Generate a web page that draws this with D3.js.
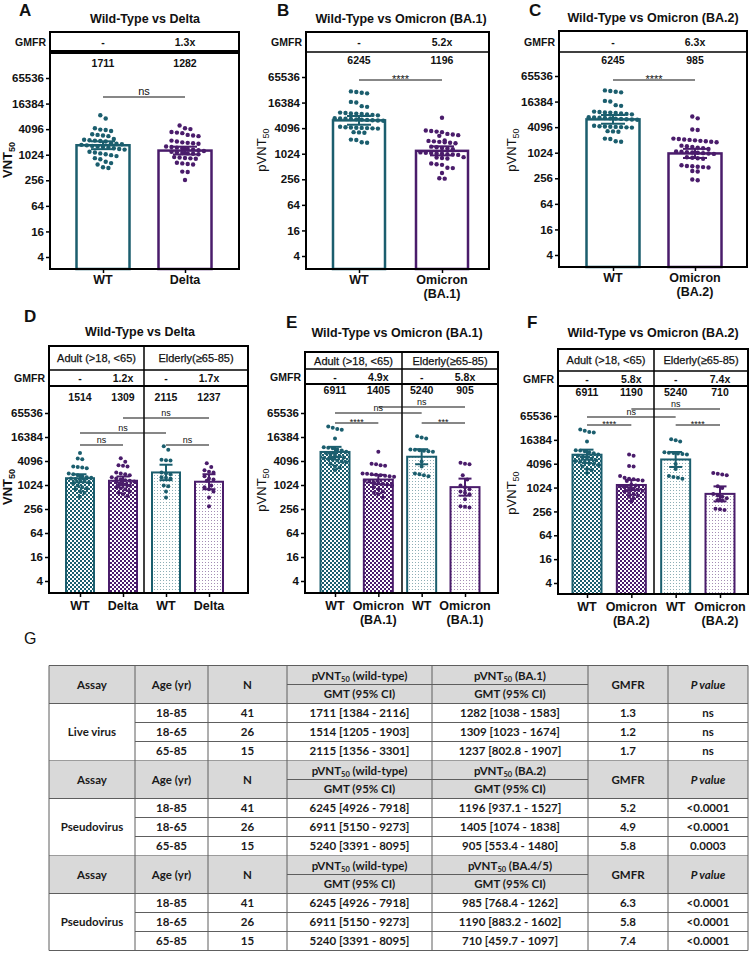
<!DOCTYPE html>
<html><head><meta charset="utf-8">
<script src="https://cdn.jsdelivr.net/npm/d3@7"></script>
<style>
body{margin:0;background:#fff}
svg{display:block}
text{font-family:"Liberation Sans",Arial,sans-serif;fill:#111}
.tbl text{font-family:Lato,"Open Sans",sans-serif;font-weight:700;fill:#1a1a1a}
</style>
</head><body>
<svg id="c" width="750" height="966"></svg>
<script>
// ---------------- DATA ----------------
const yTicks = [4, 16, 64, 256, 1024, 4096, 16384, 65536];
const ageGroups = ["Adult (>18, <65)", "Elderly(\u226565-85)"];

// Panel A: Wild-Type vs Delta (live virus, all ages)
const aLabels = [["WT"], ["Delta"]];
const aGMT = [1711, 1282];
const aLow = [1384, 1038];
const aHigh = [2116, 1583];
const aGMFR = ["-", "1.3x"];
const aSig = ["ns"];
const aWT = [8700, 7300, 4300, 4000, 3900, 3700, 3100, 3000, 2900, 2800, 2400, 2300, 2250, 2200, 2150, 2100, 1900, 1850, 1800, 1750, 1700, 1650, 1600, 1550, 1500, 1450, 1400, 1350, 1200, 1150, 1100, 1050, 1000, 950, 850, 800, 700, 650, 600, 520, 500];
const aDelta = [5000, 4300, 4100, 3500, 3400, 3300, 3000, 2900, 2800, 2200, 2100, 2000, 1950, 1900, 1850, 1600, 1550, 1500, 1450, 1400, 1350, 1300, 1250, 1200, 1150, 1120, 1100, 1080, 1050, 900, 880, 860, 840, 820, 660, 640, 620, 600, 410, 400, 260];

// Panel B: Wild-Type vs Omicron BA.1 (pseudovirus)
const bLabels = [["WT"], ["Omicron", "(BA.1)"]];
const bGMT = [6245, 1196];
const bLow = [4926, 937.1];
const bHigh = [7918, 1527];
const bGMFR = ["-", "5.2x"];
const bSig = ["****"];
const bWT = [30000, 29000, 28000, 27000, 17000, 16500, 13500, 13000, 9500, 9300, 9100, 9000, 8800, 8600, 8400, 8200, 7000, 6900, 6800, 6700, 6600, 6500, 6400, 6300, 6200, 6100, 4400, 4300, 4250, 4200, 4150, 4100, 4050, 4000, 3300, 3250, 3200, 2200, 2150, 1900, 1850];
const bBA1 = [7200, 3600, 3500, 3400, 3300, 3000, 2900, 2800, 2700, 2100, 2050, 2000, 1950, 1900, 1850, 1800, 1500, 1450, 1400, 1350, 1300, 1100, 1080, 1060, 1040, 1020, 1000, 980, 960, 850, 830, 810, 790, 600, 580, 560, 480, 470, 360, 270, 265];

// Panel C: Wild-Type vs Omicron BA.2
const cLabels = [["WT"], ["Omicron", "(BA.2)"]];
const cGMT = [6245, 985];
const cLow = [4926, 768.4];
const cHigh = [7918, 1262];
const cGMFR = ["-", "6.3x"];
const cSig = ["****"];
const cWT = [30000, 29000, 28000, 27000, 17000, 16500, 13500, 13000, 9500, 9300, 9100, 9000, 8800, 8600, 8400, 8200, 7000, 6900, 6800, 6700, 6600, 6500, 6400, 6300, 6200, 6100, 4400, 4300, 4250, 4200, 4150, 4100, 4050, 4000, 3300, 3250, 3200, 2200, 2150, 1900, 1850];
const cBA2 = [7300, 6600, 3600, 3500, 2200, 2150, 2100, 2050, 2000, 1950, 1900, 1850, 1800, 1500, 1450, 1400, 1350, 1300, 1250, 1100, 1080, 1060, 1040, 1020, 1000, 980, 960, 800, 780, 760, 740, 520, 500, 490, 480, 470, 460, 380, 370, 240, 230];

// Panel D: by age, Delta
const dLabels = [["WT"], ["Delta"], ["WT"], ["Delta"]];
const dGMT = [1514, 1309, 2115, 1237];
const dLow = [1205, 1023, 1356, 802.8];
const dHigh = [1903, 1674, 3301, 1907];
const dGMFR = ["-", "1.2x", "-", "1.7x"];
const dSig = ["ns", "ns", "ns", "ns"];
const dAdultWT = [6500, 4700, 4500, 3000, 2900, 2800, 2700, 2000, 1900, 1800, 1700, 1600, 1550, 1500, 1450, 1400, 1300, 1200, 1100, 1000, 900, 850, 800, 700, 650, 520];
const dAdultDelta = [4800, 3900, 3200, 3100, 3000, 2100, 2000, 1900, 1800, 1600, 1500, 1400, 1350, 1300, 1250, 1200, 1100, 1050, 1000, 900, 850, 800, 700, 650, 600, 550];
const dElderWT = [9600, 7900, 4400, 4300, 4200, 2100, 2000, 1900, 1600, 1550, 1500, 1000, 950, 700, 500];
const dElderDelta = [3600, 2900, 2400, 2200, 2100, 1700, 1500, 1400, 1300, 1000, 900, 800, 700, 500, 300];

// Panel E: by age, BA.1
const eLabels = [["WT"], ["Omicron", "(BA.1)"], ["WT"], ["Omicron", "(BA.1)"]];
const eGMT = [6911, 1405, 5240, 905];
const eLow = [5150, 1074, 3391, 553.4];
const eHigh = [9273, 1838, 8095, 1480];
const eGMFR = ["-", "4.9x", "-", "5.8x"];
const eSig = ["ns", "ns", "****", "***"];
const eAdultWT = [30000, 28000, 26000, 25000, 15000, 9000, 8800, 8500, 8000, 7500, 7000, 6500, 6000, 5800, 5500, 5000, 4800, 4600, 4400, 4200, 4000, 3800, 3500, 3000, 2800, 2400];
const eAdultBA1 = [7000, 3500, 3400, 3200, 3100, 2000, 1950, 1900, 1850, 1800, 1750, 1700, 1650, 1300, 1250, 1200, 1150, 1100, 1050, 1000, 900, 800, 700, 650, 600, 500];
const eElderWT = [17000, 16000, 15000, 8000, 7800, 7600, 7400, 7200, 7000, 4000, 3000, 2000, 1900, 1800, 1700];
const eElderBA1 = [3700, 3500, 3400, 1800, 1400, 1000, 900, 800, 700, 650, 600, 450, 300, 290, 280];

// Panel F: by age, BA.2
const fLabels = [["WT"], ["Omicron", "(BA.2)"], ["WT"], ["Omicron", "(BA.2)"]];
const fGMT = [6911, 1190, 5240, 710];
const fLow = [5150, 883.2, 3391, 459.7];
const fHigh = [9273, 1602, 8095, 1097];
const fGMFR = ["-", "5.8x", "-", "7.4x"];
const fSig = ["ns", "ns", "****", "****"];
const fAdultWT = [30000, 28000, 26000, 25000, 15000, 9000, 8800, 8500, 8000, 7500, 7000, 6500, 6000, 5800, 5500, 5000, 4800, 4600, 4400, 4200, 4000, 3800, 3500, 3000, 2800, 2400];
const fAdultBA2 = [7000, 6500, 3600, 3500, 2000, 1800, 1700, 1650, 1600, 1550, 1500, 1200, 1150, 1100, 1050, 1000, 950, 900, 850, 800, 750, 700, 650, 600, 550, 450];
const fElderWT = [17000, 16000, 15000, 8000, 7800, 7600, 7400, 7200, 7000, 4000, 3000, 2000, 1900, 1800, 1700];
const fElderBA2 = [2400, 2300, 2200, 2100, 1100, 1000, 700, 650, 600, 550, 500, 480, 300, 290, 280];

// Table G
const tblAssay = ["Live virus", "Pseudovirus", "Pseudovirus"];
const tblVariant = ["BA.1", "BA.2", "BA.4/5"];
const tblAge = ["18-85", "18-65", "65-85"];
const tblN = ["41", "26", "15"];
const liveWT = ["1711 [1384 - 2116]", "1514 [1205 - 1903]", "2115 [1356 -  3301]"];
const liveVar = ["1282 [1038 - 1583]", "1309 [1023 - 1674]", "1237 [802.8 - 1907]"];
const liveGMFR = ["1.3", "1.2", "1.7"];
const liveP = ["ns", "ns", "ns"];
const pseudo1WT = ["6245 [4926 - 7918]", "6911 [5150 - 9273]", "5240 [3391 - 8095]"];
const pseudo1Var = ["1196 [937.1 - 1527]", "1405 [1074 - 1838]", "905 [553.4 - 1480]"];
const pseudo1GMFR = ["5.2", "4.9", "5.8"];
const pseudo1P = ["<0.0001", "<0.0001", "0.0003"];
const pseudo2WT = ["6245 [4926 - 7918]", "6911 [5150 - 9273]", "5240 [3391 - 8095]"];
const pseudo2Var = ["985 [768.4 - 1262]", "1190 [883.2 - 1602]", "710 [459.7 - 1097]"];
const pseudo2GMFR = ["6.3", "5.8", "7.4"];
const pseudo2P = ["<0.0001", "<0.0001", "<0.0001"];

// ---------------- STYLE / LAYOUT ----------------
const TEAL = "#1b5e6e", PURP = "#4a1c6b";
const svg = d3.select("#c");
const defs = svg.append("defs");
function checker(id, col) {
  const p = defs.append("pattern").attr("id", id).attr("width", 4).attr("height", 4).attr("patternUnits", "userSpaceOnUse");
  p.append("rect").attr("width", 4).attr("height", 4).attr("fill", "#fff");
  p.append("rect").attr("width", 2).attr("height", 2).attr("fill", col);
  p.append("rect").attr("x", 2).attr("y", 2).attr("width", 2).attr("height", 2).attr("fill", col);
}
function dotted(id, col) {
  const p = defs.append("pattern").attr("id", id).attr("width", 3).attr("height", 3).attr("patternUnits", "userSpaceOnUse");
  p.append("rect").attr("width", 3).attr("height", 3).attr("fill", "#fff");
  p.append("rect").attr("x", 1).attr("y", 1).attr("width", 1).attr("height", 1).attr("fill", col).attr("opacity", 0.5);
}
checker("chkT", TEAL); checker("chkP", PURP); dotted("dotT", TEAL); dotted("dotP", PURP);

const layouts = [
  {letter:"A", lx:19, ly:16, title:"Wild-Type vs Delta", tx:145, ty:23, x0:50, x1:239, top:32, gmfrB:52, sepW:4, bottom:269, y4:257, y64k:78, c0:103, c1:185, bw:53, valY:67, ylab:"VNT", ylabBold:true, ylx:12, yly:160,
   labels:aLabels, gmt:aGMT, low:aLow, high:aHigh, gmfr:aGMFR, sig:aSig, vals:[aWT, aDelta], br:[[0,1,97]], cap:24, r:2.2, sp:5.4, sw:2.5},
  {letter:"B", lx:277, ly:16, title:"Wild-Type vs Omicron (BA.1)", tx:401, ty:23, x0:306, x1:489, top:32, gmfrB:52, sepW:1.5, bottom:269, y4:256, y64k:77, c0:359, c1:442, bw:52, valY:64, ylab:"pVNT", ylabBold:false, ylx:266, yly:150,
   labels:bLabels, gmt:bGMT, low:bLow, high:bHigh, gmfr:bGMFR, sig:bSig, vals:[bWT, bBA1], br:[[0,1,80]], cap:24, r:2.2, sp:5.4, sw:2.5},
  {letter:"C", lx:529, ly:16, title:"Wild-Type vs Omicron (BA.2)", tx:653, ty:22, x0:559, x1:747, top:31, gmfrB:52, sepW:1.5, bottom:267, y4:255, y64k:76, c0:613, c1:695, bw:53, valY:64, ylab:"pVNT", ylabBold:false, ylx:516, yly:150,
   labels:cLabels, gmt:cGMT, low:cLow, high:cHigh, gmfr:cGMFR, sig:cSig, vals:[cWT, cBA2], br:[[0,1,80]], cap:24, r:2.2, sp:5.4, sw:2.5},
  {letter:"D", lx:24, ly:322, title:"Wild-Type vs Delta", tx:140, ty:336, x0:49, x1:248, top:346, hdrB:370, divX:144, gmfrB:386, sepW:2, bottom:593, y4:581, y64k:413, c0:80, c1:209, bw:28, valY:401, ylab:"VNT", ylabBold:true, ylx:12, yly:487,
   labels:dLabels, gmt:dGMT, low:dLow, high:dHigh, gmfr:dGMFR, sig:dSig, vals:[dAdultWT, dAdultDelta, dElderWT, dElderDelta], br:[[1,3,418],[0,2,433],[0,1,445],[2,3,445]], cap:13, r:2, sp:4.5, sw:2},
  {letter:"E", lx:286, ly:328, title:"Wild-Type vs Omicron (BA.1)", tx:397, ty:337, x0:305, x1:498, top:352, hdrB:369, divX:402, gmfrB:384, sepW:2, bottom:593, y4:581, y64k:413, c0:335, c1:465, bw:29, valY:394, ylab:"pVNT", ylabBold:false, ylx:266, yly:490,
   labels:eLabels, gmt:eGMT, low:eLow, high:eHigh, gmfr:eGMFR, sig:eSig, vals:[eAdultWT, eAdultBA1, eElderWT, eElderBA1], br:[[1,3,407],[0,2,413],[0,1,423],[2,3,423]], cap:13, r:2, sp:4.5, sw:2},
  {letter:"F", lx:527, ly:328, title:"Wild-Type vs Omicron (BA.2)", tx:653, ty:337, x0:558, x1:748, top:349, hdrB:371, divX:654, gmfrB:386, sepW:2, bottom:594, y4:583, y64k:416, c0:587, c1:720, bw:29, valY:396, ylab:"pVNT", ylabBold:false, ylx:516, yly:493,
   labels:fLabels, gmt:fGMT, low:fLow, high:fHigh, gmfr:fGMFR, sig:fSig, vals:[fAdultWT, fAdultBA2, fElderWT, fElderBA2], br:[[1,3,409],[0,2,417],[0,1,425],[2,3,425]], cap:13, r:2, sp:4.5, sw:2}
];

function swarm(vals, cx, y, r, sp) {
  const pts = vals.map(v => ({v, py: y(v)})).sort((a, b) => a.py - b.py);
  const rows = []; let cur = null;
  pts.forEach(p => {
    if (!cur || p.py - cur.y0 > 2 * r + 0.6) { cur = {y0: p.py, pts: []}; rows.push(cur); }
    cur.pts.push(p);
  });
  rows.forEach(row => {
    const n = row.pts.length;
    row.pts.forEach((p, i) => { p.px = cx + (i - (n - 1) / 2) * sp; });
  });
  return pts;
}

function drawPanel(L) {
  const g = svg.append("g");
  const n = L.gmt.length;
  const y = d3.scaleLog().base(2).domain([4, 65536]).range([L.y4, L.y64k]);
  const x = d3.scalePoint().domain(d3.range(n)).range([L.c0, L.c1]);
  const col = i => (i % 2 === 0 ? TEAL : PURP);

  g.append("text").attr("x", L.lx).attr("y", L.ly).attr("font-size", 17).attr("font-weight", "bold").text(L.letter);
  g.append("text").attr("x", L.tx).attr("y", L.ty).attr("text-anchor", "middle").attr("font-size", 12.5).attr("font-weight", "bold").text(L.title);

  // bars
  g.selectAll("rect.bar").data(L.gmt).join("rect").attr("class", "bar")
    .attr("x", (d, i) => x(i) - L.bw / 2).attr("y", d => y(d))
    .attr("width", L.bw).attr("height", d => L.bottom - y(d))
    .attr("fill", (d, i) => L.hdrB ? `url(#${i < 2 ? "chk" : "dot"}${i % 2 ? "P" : "T"})` : "#fff")
    .attr("stroke", (d, i) => col(i)).attr("stroke-width", L.sw);

  // dots
  L.vals.forEach((vals, i) => {
    const pts = swarm(vals, x(i), y, L.r, L.sp);
    g.append("g").selectAll("circle").data(pts).join("circle")
      .attr("cx", d => d.px).attr("cy", d => d.py).attr("r", L.r).attr("fill", col(i));
  });

  // error bars
  L.gmt.forEach((v, i) => {
    const eg = g.append("g").attr("stroke", col(i)).attr("stroke-width", 2);
    eg.append("line").attr("x1", x(i)).attr("x2", x(i)).attr("y1", y(L.low[i])).attr("y2", y(L.high[i]));
    [L.low[i], L.high[i]].forEach(e => eg.append("line").attr("x1", x(i) - L.cap / 2).attr("x2", x(i) + L.cap / 2).attr("y1", y(e)).attr("y2", y(e)));
  });

  // box
  g.append("rect").attr("x", L.x0).attr("y", L.top).attr("width", L.x1 - L.x0).attr("height", L.bottom - L.top)
    .attr("fill", "none").attr("stroke", "#000").attr("stroke-width", 2);
  g.append("line").attr("x1", L.x0).attr("x2", L.x1).attr("y1", L.gmfrB).attr("y2", L.gmfrB).attr("stroke", "#000").attr("stroke-width", L.sepW);
  if (L.hdrB) {
    g.append("line").attr("x1", L.x0).attr("x2", L.x1).attr("y1", L.hdrB).attr("y2", L.hdrB).attr("stroke", "#000").attr("stroke-width", 1.5);
    g.append("line").attr("x1", L.divX).attr("x2", L.divX).attr("y1", L.top).attr("y2", L.bottom).attr("stroke", "#000").attr("stroke-width", 1.5);
    g.selectAll("text.hdr").data(ageGroups).join("text").attr("class", "hdr")
      .attr("x", (d, i) => i === 0 ? (L.x0 + L.divX) / 2 : (L.divX + L.x1) / 2)
      .attr("y", (L.top + L.hdrB) / 2 + 4).attr("text-anchor", "middle").attr("font-size", 11)
      .attr("stroke", "#111").attr("stroke-width", 0.25).text(d => d);
  }
  const gTop = L.hdrB || L.top;
  g.append("text").attr("x", L.x0 - 4).attr("y", (gTop + L.gmfrB) / 2 + 4).attr("text-anchor", "end")
    .attr("font-size", 10.5).attr("font-weight", "bold").text("GMFR");
  g.selectAll("text.gm").data(L.gmfr).join("text").attr("class", "gm")
    .attr("x", (d, i) => x(i)).attr("y", (gTop + L.gmfrB) / 2 + 4).attr("text-anchor", "middle")
    .attr("font-size", 10.5).attr("font-weight", "bold").text(d => d);
  g.selectAll("text.val").data(L.gmt).join("text").attr("class", "val")
    .attr("x", (d, i) => x(i)).attr("y", L.valY).attr("text-anchor", "middle")
    .attr("font-size", 10.5).attr("font-weight", "bold").text(d => d);

  // significance brackets
  L.br.forEach((b, k) => {
    g.append("line").attr("x1", x(b[0])).attr("x2", x(b[1])).attr("y1", b[2]).attr("y2", b[2]).attr("stroke", "#111").attr("stroke-width", 1.2);
    const s = L.sig[k];
    g.append("text").attr("x", (x(b[0]) + x(b[1])) / 2).attr("y", s === "ns" ? b[2] - 2.5 : b[2] + (L.hdrB ? 2 : 3))
      .attr("text-anchor", "middle").attr("font-size", L.hdrB ? 9 : 11).text(s);
  });

  // y axis
  const ax = g.append("g").attr("transform", `translate(${L.x0},0)`)
    .call(d3.axisLeft(y).tickValues(yTicks).tickFormat(d => d).tickSize(4).tickPadding(2));
  ax.select(".domain").remove();
  ax.selectAll(".tick line").attr("stroke", "#000").attr("stroke-width", 1.5);
  ax.selectAll(".tick text").attr("font-size", 11.5).attr("font-weight", "bold").attr("fill", "#111").attr("font-family", '"Liberation Sans",Arial,sans-serif');

  // x axis
  const xa = g.append("g").attr("transform", `translate(0,${L.bottom})`)
    .call(d3.axisBottom(x).tickSize(4).tickFormat(""));
  xa.select(".domain").remove();
  xa.selectAll(".tick line").attr("stroke", "#000").attr("stroke-width", 1.5);
  L.labels.forEach((lines, i) => {
    const t = g.append("text").attr("x", x(i)).attr("y", L.bottom + (L.hdrB ? 17 : 15)).attr("text-anchor", "middle")
      .attr("font-size", 12.5).attr("font-weight", "bold");
    lines.forEach((s, k) => t.append("tspan").attr("x", x(i)).attr("dy", k === 0 ? 0 : 13.5).text(s));
  });

  // y label
  const yl = g.append("text").attr("transform", `translate(${L.ylx},${L.yly}) rotate(-90)`).attr("text-anchor", "middle")
    .attr("font-size", 13).attr("font-weight", L.ylabBold ? "bold" : "normal");
  yl.append("tspan").text(L.ylab);
  yl.append("tspan").attr("font-size", 9).attr("dy", 3).text("50");
}
layouts.forEach(drawPanel);

// ---------------- TABLE G ----------------
svg.append("text").attr("x", 24).attr("y", 644).attr("font-size", 16).attr("font-family", "Lato,sans-serif").text("G");
const tg = svg.append("g").attr("class", "tbl");
const cols = [49, 135, 208, 287, 432, 588, 668, 748];
const T0 = 665.5, H = 38, RH = 19;
const cx = k => (cols[k] + cols[k + 1]) / 2;
const blocks = [
  [tblAssay[0], tblVariant[0], liveWT, liveVar, liveGMFR, liveP],
  [tblAssay[1], tblVariant[1], pseudo1WT, pseudo1Var, pseudo1GMFR, pseudo1P],
  [tblAssay[2], tblVariant[2], pseudo2WT, pseudo2Var, pseudo2GMFR, pseudo2P]
];
const LC = "#5e5e5e";
function hline(x1, x2, yy) { tg.append("line").attr("x1", x1).attr("x2", x2).attr("y1", yy).attr("y2", yy).attr("stroke", LC).attr("stroke-width", 1); }
function ttext(xx, yy, s, opts = {}) {
  const t = tg.append("text").attr("x", xx).attr("y", yy + 4).attr("text-anchor", "middle").attr("font-size", 11.5);
  if (opts.italic) t.attr("font-style", "italic");
  if (opts.sub) {
    t.append("tspan").text(s[0]);
    t.append("tspan").attr("font-size", 7.5).attr("dy", 1.5).text("50");
    t.append("tspan").attr("dy", -1.5).text(s[1]);
  } else t.text(s);
  return t;
}
blocks.forEach((b, bi) => {
  const top = T0 + bi * (H + 3 * RH);
  tg.append("rect").attr("x", cols[0]).attr("y", top).attr("width", cols[7] - cols[0]).attr("height", H).attr("fill", "#d9d9d9");
  ttext(cx(0), top + H / 2, "Assay");
  ttext(cx(1), top + H / 2, "Age (yr)");
  ttext(cx(2), top + H / 2, "N");
  ttext(cx(3), top + H / 4 + 1, ["pVNT", " (wild-type)"], {sub: true});
  ttext(cx(4), top + H / 4 + 1, ["pVNT", ` (${b[1]})`], {sub: true});
  ttext(cx(3), top + 3 * H / 4, "GMT (95% CI)");
  ttext(cx(4), top + 3 * H / 4, "GMT (95% CI)");
  ttext(cx(5), top + H / 2, "GMFR");
  ttext(cx(6), top + H / 2, "P value", {italic: true});
  hline(cols[3], cols[5], top + H / 2);
  hline(cols[0], cols[7], top + H);
  const rowsTop = top + H;
  ttext(cx(0), rowsTop + 1.5 * RH, b[0]);
  for (let r = 0; r < 3; r++) {
    const yy = rowsTop + r * RH;
    if (r > 0) hline(cols[1], cols[7], yy);
    ttext(cx(1), yy + RH / 2, tblAge[r]);
    ttext(cx(2), yy + RH / 2, tblN[r]);
    ttext(cx(3), yy + RH / 2, b[2][r]);
    ttext(cx(4), yy + RH / 2, b[3][r]);
    ttext(cx(5), yy + RH / 2, b[4][r]);
    ttext(cx(6), yy + RH / 2, b[5][r]);
  }
  hline(cols[0], cols[7], rowsTop + 3 * RH);
});
const Tend = T0 + 3 * (H + 3 * RH);
cols.forEach(xx => tg.append("line").attr("x1", xx).attr("x2", xx).attr("y1", T0).attr("y2", Tend).attr("stroke", LC).attr("stroke-width", 1));
hline(cols[0], cols[7], T0);
</script>
</body></html>
